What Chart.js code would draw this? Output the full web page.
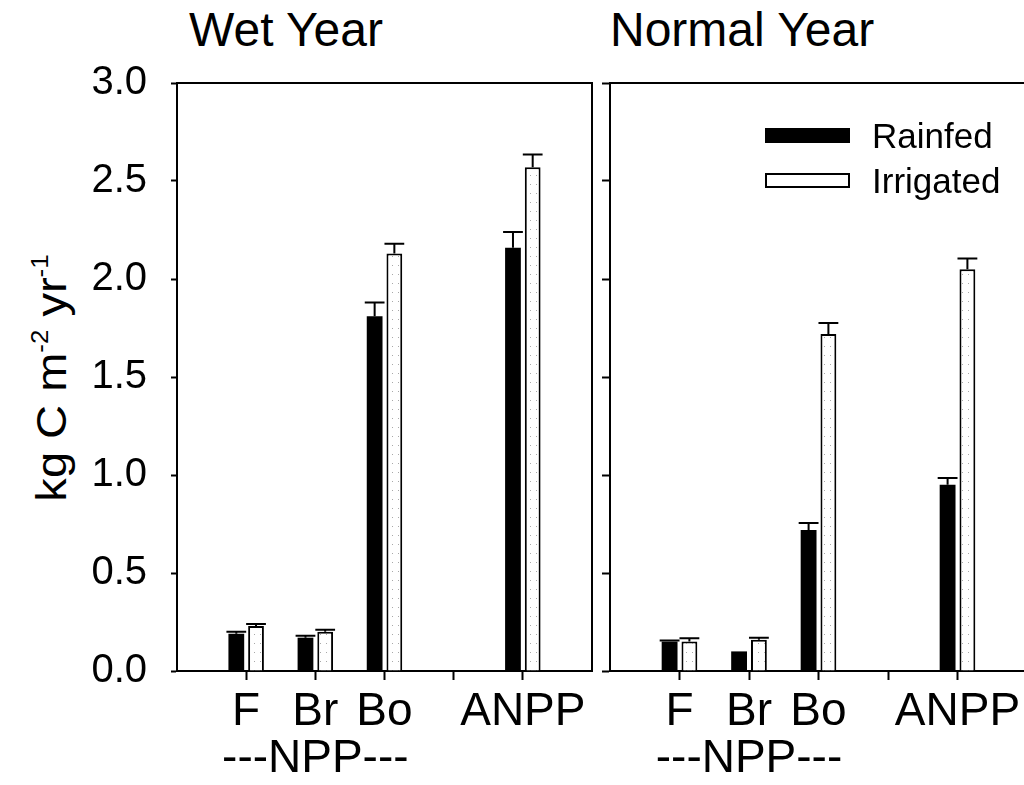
<!DOCTYPE html>
<html>
<head>
<meta charset="utf-8">
<script src="https://cdn.jsdelivr.net/npm/chart.js@4.4.0/dist/chart.umd.min.js"></script>
<style>
  html, body { margin: 0; padding: 0; background: #fff; }
  body {
    width: 1024px; height: 785px; overflow: hidden; position: relative;
    font-family: 'Liberation Sans', Arial, Helvetica, sans-serif; color: #000;
  }
  #wetBox { position: absolute; left: 0; top: 0; width: 600px; height: 785px; }
  #normalBox { position: absolute; left: 600px; top: 0; width: 440px; height: 785px; }
  .panelTitle { position: absolute; top: 6px; font-size: 48px; line-height: 1; white-space: nowrap; }
  #yTitle {
    position: absolute; left: 52px; top: 378px; font-size: 42px; line-height: 1; white-space: nowrap;
    transform: translate(-50%, -50%) rotate(-90deg) scaleX(1.12);
  }
  #yTitle sup { font-size: 55%; vertical-align: 0.8em; line-height: 0; }
  .swatch { position: absolute; left: 765px; width: 85px; height: 15px; box-sizing: border-box; }
  .legendText { position: absolute; left: 872px; font-size: 35px; line-height: 1; white-space: nowrap; }
</style>
</head>
<body>
<div class="panelTitle" style="left:189px">Wet Year</div>
<div class="panelTitle" style="left:610px">Normal Year</div>
<div id="yTitle">kg C m<sup>-2</sup> yr<sup>-1</sup></div>

<div id="wetBox"><canvas id="wetChart" width="600" height="785"></canvas></div>
<div id="normalBox"><canvas id="normalChart" width="440" height="785"></canvas></div>

<div class="swatch" style="top:128px; background:#000"></div>
<div class="legendText" style="top:118px">Rainfed</div>
<div class="swatch" style="top:173px; background:#fff; border:2px solid #000"></div>
<div class="legendText" style="top:163px">Irrigated</div>

<script>
// slots on the x axis: empty edges and an empty gap before ANPP
const slotLabels = ['', 'F', 'Br', 'Bo', '', 'ANPP', '']
const groupLabel = '---NPP---'
const yTicks = [0, 0.5, 1, 1.5, 2, 2.5, 3]

// Wet year
const wetRainfed     = [null, 0.19, 0.17, 1.81, null, 2.16, null]
const wetRainfedErr  = [null, 0.01, 0.01, 0.07, null, 0.08, null]
const wetIrrigated   = [null, 0.23, 0.20, 2.13, null, 2.57, null]
const wetIrrigatedErr = [null, 0.01, 0.01, 0.05, null, 0.065, null]

// Normal year
const normRainfed     = [null, 0.15, 0.10, 0.72, null, 0.95, null]
const normRainfedErr  = [null, 0.005, 0.0, 0.035, null, 0.035, null]
const normIrrigated   = [null, 0.15, 0.16, 1.72, null, 2.05, null]
const normIrrigatedErr = [null, 0.017, 0.01, 0.055, null, 0.055, null]

const labels = slotLabels.map(l => l === 'Br' ? [l, groupLabel] : l)

// light dotted fill for the irrigated bars
const dots = document.createElement('canvas')
dots.width = 6
dots.height = 9
const dctx = dots.getContext('2d')
dctx.fillStyle = '#fff'
dctx.fillRect(0, 0, 6, 9)
dctx.fillStyle = '#a8a8a8'
dctx.fillRect(2, 4, 1, 1)
const dotFill = dctx.createPattern(dots, 'repeat')

// upper error bars, read from dataset.errors
const errorBars = {
    id: 'errorBars',
    afterDatasetsDraw(chart) {
        const ctx = chart.ctx
        const y = chart.scales.y
        ctx.save()
        ctx.strokeStyle = '#000'
        ctx.lineWidth = 2
        chart.data.datasets.forEach((ds, i) => {
            const meta = chart.getDatasetMeta(i)
            meta.data.forEach((bar, j) => {
                const v = ds.data[j]
                const e = ds.errors[j]
                if (v == null || e == null || e <= 0) return
                const top = y.getPixelForValue(v + e)
                const half = bar.width / 2 + 2
                ctx.beginPath()
                ctx.moveTo(bar.x, bar.y)
                ctx.lineTo(bar.x, top)
                ctx.moveTo(bar.x - half, top)
                ctx.lineTo(bar.x + half, top)
                ctx.stroke()
            })
        })
        ctx.restore()
    }
}

// top and right edges of the frame
const frame = {
    id: 'frame',
    afterDraw(chart) {
        const a = chart.chartArea
        const ctx = chart.ctx
        ctx.save()
        ctx.strokeStyle = '#000'
        ctx.lineWidth = 2
        ctx.beginPath()
        ctx.moveTo(a.left, a.top)
        ctx.lineTo(a.right, a.top)
        ctx.lineTo(a.right, a.bottom)
        ctx.stroke()
        ctx.restore()
    }
}

const makeChart = (id, rainfed, rainErr, irrigated, irrErr, yWidth, showYLabels, padRight) => {
    const el = document.getElementById(id).getContext('2d')
    return new Chart(el, {
        type: 'bar',
        data: {
            labels: labels,
            datasets: [{
                label: 'Rainfed',
                data: rainfed,
                errors: rainErr,
                backgroundColor: '#000',
                borderWidth: 0
            }, {
                label: 'Irrigated',
                data: irrigated,
                errors: irrErr,
                backgroundColor: dotFill,
                borderColor: '#000',
                borderWidth: 2
            }]
        },
        options: {
            responsive: false,
            animation: false,
            devicePixelRatio: 1,
            categoryPercentage: 0.57,
            barPercentage: 0.8,
            layout: { padding: { top: 83, right: padRight, left: 0, bottom: 0 } },
            plugins: {
                legend: { display: false },
                tooltip: { enabled: false }
            },
            scales: {
                x: {
                    type: 'category',
                    offset: false,
                    grid: {
                        offset: false,
                        drawOnChartArea: false,
                        drawTicks: true,
                        tickLength: 9,
                        tickWidth: 2,
                        color: '#000',
                        tickColor: c => (c.index === 0 || c.index === slotLabels.length - 1) ? 'rgba(0,0,0,0)' : '#000'
                    },
                    border: { display: true, color: '#000', width: 2 },
                    ticks: {
                        autoSkip: false,
                        maxRotation: 0,
                        padding: 8,
                        color: '#000',
                        font: { family: "'Liberation Sans', Arial, sans-serif", size: 46, lineHeight: 1.04 }
                    },
                    afterFit: s => { s.height = 114 }
                },
                y: {
                    min: 0,
                    max: 3,
                    afterBuildTicks: s => { s.ticks = yTicks.map(v => ({ value: v })) },
                    grid: {
                        drawOnChartArea: false,
                        drawTicks: true,
                        tickLength: showYLabels ? 6 : 8,
                        tickWidth: 2,
                        color: '#000'
                    },
                    border: { display: true, color: '#000', width: 2 },
                    ticks: {
                        display: showYLabels,
                        padding: 24,
                        color: '#000',
                        font: { family: "'Liberation Sans', Arial, sans-serif", size: 40 },
                        callback: v => v.toFixed(1)
                    },
                    afterFit: s => { s.width = yWidth }
                }
            }
        },
        plugins: [errorBars, frame]
    })
}

makeChart('wetChart', wetRainfed, wetRainfedErr, wetIrrigated, wetIrrigatedErr, 177, true, 5)
makeChart('normalChart', normRainfed, normRainfedErr, normIrrigated, normIrrigatedErr, 10, false, 13)
</script>
</body>
</html>
